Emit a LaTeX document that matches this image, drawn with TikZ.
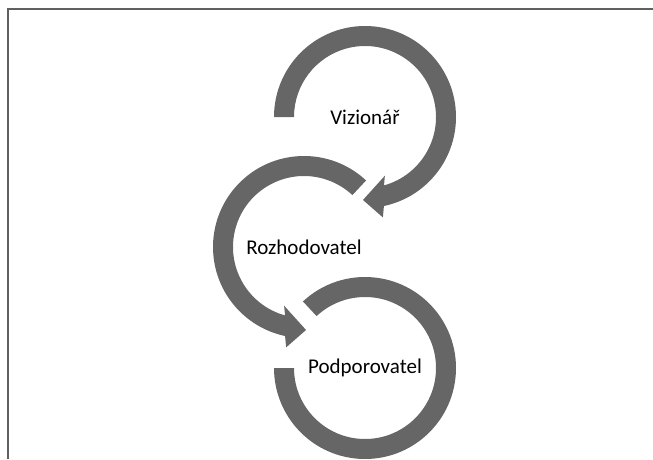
\documentclass[tikz,border=0pt]{standalone}
\usepackage{fontspec}
\setmainfont{Carlito}
\usepackage{xcolor}
\definecolor{ringgray}{RGB}{102,102,102}
\definecolor{framegray}{RGB}{96,96,96}
\usepackage{tikz}
\usetikzlibrary{positioning}
\tikzset{
  ringarrow/.style={fill=ringgray,draw=none},
  rolelabel/.style={font=\fontsize{21pt}{25pt}\selectfont,text=black,inner sep=0pt},
  frameline/.style={draw=framegray,line width=2pt},
}

\begin{document}
\begin{tikzpicture}[x=1pt,y=1pt]
  \useasboundingbox (0,0) rectangle (653,459);
  % frame (only top and left edges show)
  \draw[frameline] (8,0) -- (8,450) -- (653,450);
  % role labels, also the ring centres
  \node[rolelabel] (viz) at (365,342) {Vizionář};
  \node[rolelabel] (roz) at (304,212) {Rozhodovatel};
  \node[rolelabel] (pod) at (365,91) {Podporovatel};
  % ring 1: clockwise, head points into ring 2
  \begin{scope}[shift={(viz.center)}]
    \fill[ringarrow] (180:71pt) -- (180:91pt) arc[start angle=180,end angle=-78,radius=91pt]
      -- (-79.9:102pt) -- (-91.4:83pt) -- (-71.3:62pt)
      -- (-74.5:71pt) arc[start angle=-74.5,end angle=180,radius=71pt] -- cycle;
  \end{scope}
  % ring 2: anticlockwise, head points into ring 3
  \begin{scope}[shift={(roz.center)}]
    \fill[ringarrow] (47:71pt) -- (47:91pt) arc[start angle=47,end angle=258,radius=91pt]
      -- (259.9:102pt) -- (271.4:83pt) -- (251.3:62pt)
      -- (254.5:71pt) arc[start angle=254.5,end angle=47,radius=71pt] -- cycle;
  \end{scope}
  % ring 3: open ring, no head
  \begin{scope}[shift={(pod.center)}]
    \fill[ringarrow] (133:71pt) -- (133:91pt) arc[start angle=133,end angle=-180,radius=91pt]
      -- (-180:71pt) arc[start angle=-180,end angle=133,radius=71pt] -- cycle;
  \end{scope}
\end{tikzpicture}
\end{document}
